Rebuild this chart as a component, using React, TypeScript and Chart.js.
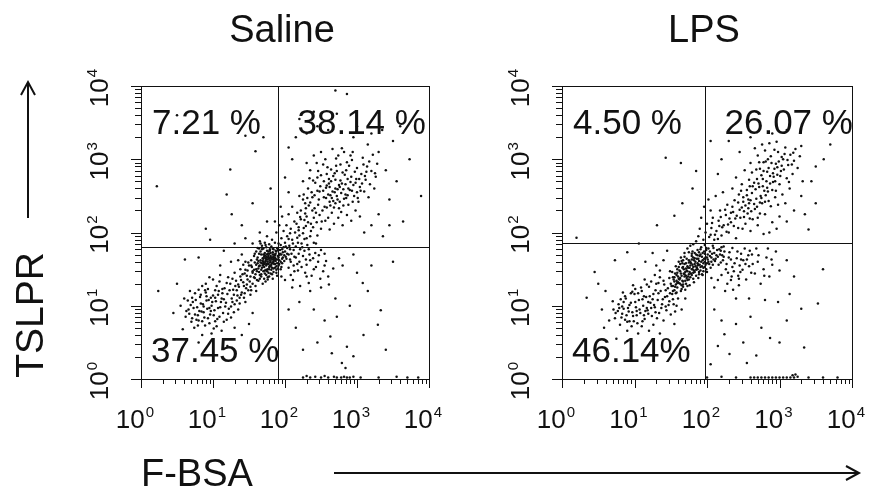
import React, { useEffect, useRef } from "react";
import { Chart, registerables } from "chart.js";

Chart.register(...registerables);

// ---------- data (in log10 units) ----------
const PANEL_TITLES = ["Saline", "LPS"];
const Y_AXIS_TITLE = "TSLPR";
const X_AXIS_TITLE = "F-BSA";
const DECADE_EXPONENTS = [0, 1, 2, 3, 4];
const AXIS_MIN = 1;
const AXIS_MAX = 10000;

const SALINE_QUADRANTS = ["7.21 %", "38.14 %", "37.45 %"]; // UL, UR, LL
const LPS_QUADRANTS = ["4.50 %", "26.07 %", "46.14%"];
const SALINE_GATE = [80, 63]; // x, y
const LPS_GATE = [93, 71];

const SALINE_EVENTS: number[][] = [
  // dense core
  [1.55,1.45],[1.60,1.50],[1.62,1.58],[1.65,1.42],[1.66,1.62],[1.68,1.52],[1.70,1.70],[1.71,1.58],[1.72,1.48],[1.73,1.65],
  [1.74,1.55],[1.75,1.75],[1.76,1.60],[1.77,1.68],[1.78,1.50],[1.79,1.62],[1.80,1.72],[1.81,1.56],[1.82,1.66],[1.83,1.78],
  [1.84,1.60],[1.85,1.70],[1.86,1.52],[1.87,1.64],[1.88,1.74],[1.89,1.58],[1.90,1.68],[1.92,1.62],[1.93,1.76],[1.95,1.70],
  [1.97,1.66],[1.98,1.80],[2.00,1.74],[1.58,1.38],[1.63,1.34],[1.67,1.40],[1.69,1.30],[1.74,1.42],[1.76,1.36],[1.80,1.44],
  [1.84,1.46],[1.50,1.55],[1.53,1.62],[1.57,1.68],[1.60,1.74],[1.64,1.78],[1.68,1.82],[1.72,1.86],[1.78,1.84],[1.82,1.90],
  [1.86,1.86],[1.75,1.95],[1.70,1.64],[1.79,1.55],[1.81,1.64],[1.77,1.74],[1.73,1.60],[1.67,1.70],[1.64,1.54],[1.85,1.62],
  [1.91,1.55],[1.94,1.50],[1.96,1.58],[2.02,1.64],[2.05,1.70],[2.08,1.60],[1.88,1.45],[1.62,1.66],[1.70,1.56],[1.76,1.66],
  [1.83,1.70],[1.61,1.47],[1.63,1.61],[1.65,1.55],[1.67,1.49],[1.69,1.65],[1.71,1.53],[1.72,1.69],[1.74,1.63],[1.75,1.47],
  [1.77,1.57],[1.78,1.71],[1.80,1.61],[1.81,1.49],[1.83,1.59],[1.84,1.67],[1.86,1.57],[1.87,1.71],[1.89,1.63],[1.90,1.51],
  [1.92,1.69],[1.66,1.74],[1.70,1.78],[1.74,1.80],[1.79,1.77],[1.84,1.77],[1.72,1.44],[1.78,1.40],[1.82,1.52],[1.88,1.54],
  [1.94,1.60],[1.60,1.56],[1.64,1.46],[1.68,1.58],[1.76,1.50],[1.80,1.68],[1.86,1.66],[1.90,1.76],[1.96,1.64],[1.70,1.60],
  [1.75,1.70],[1.73,1.61],[1.79,1.59],[1.76,1.63],[1.82,1.58],[1.71,1.67],[1.85,1.65],[1.78,1.53],[1.69,1.55],[1.83,1.73],
  [1.74,1.49],[1.91,1.66],[1.66,1.59],[1.87,1.61],[1.80,1.66],[1.72,1.72],[1.77,1.45],[1.93,1.71],[1.63,1.51],[1.89,1.79],
  [1.68,1.77],[1.81,1.81],[1.75,1.57],[1.84,1.51],[1.70,1.47],[1.96,1.77],[1.61,1.63],[1.86,1.69],[1.79,1.75],[1.73,1.83],
  [1.67,1.43],[1.92,1.57],[1.99,1.69],[1.58,1.59],[1.76,1.39],[1.88,1.49],[2.01,1.81],[1.64,1.71],[1.82,1.43],[1.71,1.37],
  [1.94,1.83],[1.57,1.49],[1.85,1.57],[1.78,1.65],[1.74,1.67],[1.80,1.54],[1.69,1.61],[1.87,1.75],[1.83,1.63],[1.76,1.71],
  [1.72,1.57],[1.58,1.71],[1.62,1.79],[1.66,1.85],[1.91,1.85],[1.97,1.73],[2.03,1.71],[2.07,1.77],[1.99,1.61],[1.95,1.53],
  [1.89,1.41],[1.83,1.37],[1.73,1.33],[1.65,1.37],[1.59,1.43],[1.54,1.53],
  // between core and lower-left cloud
  [1.47,1.41],[1.51,1.33],[1.43,1.27],[1.55,1.47],[1.39,1.35],[1.49,1.21],[1.57,1.39],[1.35,1.29],[1.45,1.49],[1.53,1.55],
  [1.41,1.43],[1.33,1.21],[1.59,1.27],[1.37,1.11],[1.27,1.37],[1.29,1.15],[1.49,1.59],[1.61,1.35],[1.44,1.17],[1.52,1.26],
  // lower-left cloud
  [0.62,0.85],[0.66,0.95],[0.70,0.78],[0.72,1.05],[0.75,0.88],[0.78,0.98],[0.80,0.80],[0.82,1.12],[0.84,0.92],[0.86,1.02],
  [0.88,0.84],[0.90,1.18],[0.92,0.96],[0.94,1.08],[0.96,0.88],[0.98,1.00],[1.00,1.14],[1.02,0.94],[1.04,1.06],[1.06,0.82],
  [1.08,1.20],[1.10,0.98],[1.12,1.10],[1.14,0.90],[1.16,1.24],[1.18,1.04],[1.20,1.16],[1.22,0.96],[1.24,1.30],[1.26,1.10],
  [1.28,1.22],[1.30,1.02],[1.32,1.34],[1.34,1.14],[1.36,1.26],[1.38,1.40],[1.40,1.18],[1.42,1.32],[1.44,1.44],[1.46,1.24],
  [1.48,1.36],[0.95,0.76],[1.05,0.72],[1.15,0.78],[1.25,0.84],[0.80,1.22],[0.90,1.30],[1.00,1.36],[1.10,1.42],[0.55,1.00],
  [0.60,1.10],[0.68,1.20],[1.35,0.95],[1.45,1.05],[1.52,1.15],[0.98,0.62],[1.12,0.66],[0.74,0.70],[0.50,1.30],[0.45,0.90],
  [0.58,0.68],[0.85,0.60],[1.30,0.70],[1.55,0.90],[1.60,1.20],[0.24,1.20],[0.61,1.63],[0.80,1.66],[0.96,1.90],[1.10,1.55],
  [1.25,1.60],[1.40,1.70],[1.45,1.60],[1.15,1.75],[1.38,1.50],[1.42,1.56],[1.48,1.48],[1.52,1.40],[1.35,1.62],[1.55,1.30],
  [1.30,1.45],[0.80,0.50],[1.20,0.45],[1.40,0.60],[1.50,0.75],
  [0.67,0.89],[0.73,0.97],[0.79,0.87],[0.83,1.03],[0.87,0.91],[0.91,1.07],[0.97,0.93],[1.03,1.11],[1.07,0.97],[1.13,1.17],
  [1.17,0.99],[1.23,1.21],[1.27,1.05],[0.77,0.81],[0.93,0.83],[1.01,0.87],[1.09,0.85],[0.71,1.11],[0.89,1.21],[1.05,1.27],
  [1.19,1.31],[1.31,1.27],[0.99,1.05],[1.11,1.05],[0.85,0.79],[0.95,0.97],[1.15,1.09],[0.81,0.93],[0.63,0.93],[0.69,1.01],
  [1.21,0.89],[1.33,1.07],[1.39,1.15],[1.03,0.79],[0.91,1.13],[0.76,1.08],[1.07,1.15],[1.25,0.99],[0.87,0.99],[0.97,1.11],
  [0.71,0.83],[0.79,0.73],[0.89,0.73],[1.01,0.69],[1.19,0.81],[1.29,0.91],[1.37,1.03],[1.43,1.11],[1.47,1.29],[1.53,1.21],
  [0.65,1.07],[0.75,1.17],[0.85,1.27],[0.95,1.39],[1.09,1.33],[1.21,1.39],[1.13,1.23],[1.03,1.21],[0.93,1.23],[0.83,1.15],
  // band between core and upper-right cloud
  [2.00,1.86],[2.03,1.95],[2.06,1.82],[2.08,2.05],[2.10,1.90],[2.12,1.76],[2.14,2.00],[2.16,2.12],[2.18,1.86],[2.20,1.96],
  [2.22,2.18],[2.24,1.80],[2.26,2.06],[2.28,2.26],[2.30,1.92],[2.32,2.14],[2.34,1.70],[2.36,2.02],[2.38,2.30],[2.40,1.86],
  [2.02,2.10],[2.05,2.25],[2.10,2.35],[2.15,1.66],[2.20,1.60],[2.25,1.68],[2.30,1.56],[2.35,1.62],[2.42,1.72],[2.45,1.96],
  [1.98,2.02],[1.95,1.92],[2.12,1.55],[2.18,1.48],[2.28,1.45],[2.40,1.50],[2.46,1.60],[2.50,1.76],[2.05,1.52],[1.95,1.40],
  [2.00,1.35],[2.08,1.42],[1.92,2.10],[1.96,2.22],[1.94,2.35],[1.88,2.00],[1.86,2.15],
  [2.03,1.79],[2.09,1.71],[2.11,1.85],[2.17,1.93],[2.07,1.99],[2.21,1.77],[2.13,1.67],[2.19,2.03],[2.27,1.91],[2.23,1.85],
  [2.01,1.67],[2.15,1.81],[2.31,1.83],[2.25,1.99],[2.05,1.91],[2.29,2.09],[2.35,1.95],[2.39,2.07],[2.33,1.77],[2.43,1.85],
  [2.07,1.63],[2.13,1.47],[2.19,1.71],[2.23,1.53],[2.29,1.63],[2.37,1.41],[2.43,1.53],[2.47,1.69],[2.53,1.47],[2.57,1.61],
  [2.61,1.29],[2.67,1.51],[2.11,1.35],[2.21,1.27],[2.33,1.31],[2.49,1.37],[2.17,1.57],[2.27,1.75],[2.39,1.65],[2.55,1.71],
  // upper-right cloud
  [2.20,2.50],[2.25,2.70],[2.28,2.40],[2.32,2.60],[2.35,2.85],[2.38,2.48],[2.40,2.20],[2.42,2.68],[2.44,2.95],[2.46,2.38],
  [2.48,2.56],[2.50,2.78],[2.52,2.30],[2.54,2.48],[2.56,3.00],[2.58,2.64],[2.60,2.20],[2.62,2.42],[2.64,2.86],[2.66,2.56],
  [2.68,2.34],[2.70,2.72],[2.72,2.50],[2.74,3.05],[2.76,2.62],[2.78,2.28],[2.80,2.82],[2.82,2.46],[2.84,2.66],[2.86,2.96],
  [2.88,2.38],[2.90,2.58],[2.92,2.76],[2.94,3.10],[2.96,2.50],[2.98,2.68],[3.00,2.88],[3.02,2.42],[3.04,2.62],[3.06,2.80],
  [3.08,3.02],[3.10,2.56],[3.12,2.72],[3.14,2.90],[3.16,2.48],[3.18,2.66],[3.20,2.84],[3.22,3.06],[3.24,2.60],[3.26,2.76],
  [3.28,2.94],[3.30,3.10],[2.36,2.12],[2.44,2.14],[2.50,2.05],[2.56,2.16],[2.62,2.04],[2.68,2.12],[2.74,2.20],[2.80,2.10],
  [2.86,2.24],[2.92,2.16],[2.98,2.30],[3.04,2.22],[2.48,2.24],[2.58,2.34],[2.70,2.40],[2.78,2.54],[2.88,2.60],[2.54,2.70],
  [2.62,2.62],[2.72,2.84],[2.82,3.10],[2.66,3.14],[2.50,3.10],[2.40,3.05],[2.30,2.95],[2.60,2.52],[2.64,2.70],[2.76,2.42],
  [2.84,2.52],[2.94,2.42],[3.00,2.55],[2.70,2.60],[2.58,2.80],[2.46,2.84],[2.34,2.74],[2.26,2.52],[2.22,2.30],[2.30,2.22],
  [2.57,2.47],[2.63,2.37],[2.69,2.55],[2.73,2.45],[2.79,2.67],[2.85,2.47],[2.91,2.69],[2.61,2.67],[2.67,2.77],[2.75,2.33],
  [2.53,2.57],[2.47,2.45],[2.41,2.33],[2.37,2.55],[2.83,2.79],[2.89,2.91],[2.97,2.83],[3.03,2.73],[3.09,2.93],[2.71,2.91],
  [2.59,2.89],[2.49,2.63],[2.43,2.27],[2.33,2.37],[2.27,2.17],[2.19,2.07],[2.31,2.47],[2.39,2.71],[2.55,2.35],[2.65,2.27],
  [2.77,2.71],[2.93,2.57],[3.01,2.47],[3.13,2.83],[2.81,2.37],[2.45,2.57],[2.51,2.15],[2.29,2.33],[2.21,2.21],[2.35,2.41],
  [2.13,2.15],[2.17,2.27],[2.25,2.45],[2.87,2.73],[2.95,2.65],[3.07,2.67],[2.63,2.51],[2.73,2.59],[2.67,2.43],[2.57,2.61],
  [2.61,2.73],[2.69,2.81],[2.77,2.93],[2.81,2.59],[2.87,2.51],[2.93,2.99],[2.99,2.73],[3.05,2.57],[3.11,2.77],[2.53,2.93],
  [2.45,2.75],[2.41,2.51],[2.65,2.47],[2.75,2.65],[2.85,2.85],[2.71,3.01],[2.79,3.15],[2.91,3.05],[3.17,2.97],[3.25,2.81],
  // upper sparse
  [2.05,3.16],[2.15,3.30],[2.30,3.35],[2.45,3.45],[2.60,3.40],[2.72,3.62],[2.70,3.94],[2.86,3.89],[3.00,3.45],[3.20,3.35],
  [3.50,3.25],[3.73,3.00],[3.89,2.50],[3.64,2.15],[3.36,1.95],[3.45,2.45],[3.55,2.70],[3.40,2.85],[3.60,3.45],[2.40,3.65],
  [2.20,3.55],[2.95,3.30],[3.15,3.20],[3.35,3.40],[3.30,2.25],[3.45,2.10],[3.20,2.10],[3.10,2.00],[2.10,3.00],[2.00,2.75],
  [2.05,2.55],
  // lower-right sparse
  [2.63,0.58],[2.86,0.44],[2.95,0.31],[3.09,0.60],[3.29,0.74],[3.33,0.94],[3.08,1.31],[2.79,0.22],[2.84,0.15],[2.55,0.80],
  [2.40,0.95],[2.70,1.10],[2.90,1.00],[3.00,1.45],[3.20,1.55],[2.60,1.40],[2.80,1.55],[2.50,1.25],[2.35,1.20],[2.20,1.05],
  [2.10,1.25],[2.15,0.70],[2.45,0.50],[2.65,0.35],[2.30,1.40],[2.55,1.55],[2.75,1.65],[2.95,1.70],[3.15,1.20],[3.50,1.60],
  [2.25,0.40],[2.05,0.95],[3.40,0.40],[2.72,0.85],
  // on the bottom edge
  [2.25,0.02],[2.35,0.02],[2.42,0.03],[2.50,0.02],[2.60,0.02],[2.68,0.03],[2.72,0.02],[2.78,0.02],[2.82,0.03],[2.86,0.02],
  [2.90,0.02],[2.95,0.03],[3.05,0.02],[3.30,0.02],[3.55,0.03],[3.70,0.02],[3.85,0.02],[2.30,0.04],[2.55,0.04],
  // upper-left sparse
  [0.22,2.63],[1.19,2.52],[1.24,2.86],[1.59,3.11],[1.45,3.32],[1.26,2.25],[0.50,3.60],[1.70,3.30],[1.80,2.60],[1.55,2.40],
  [1.40,2.10],[1.65,2.00],[1.75,2.15],[0.90,2.05],[1.65,1.88],[1.55,1.85],[1.45,1.92],[1.30,1.85],
];

const LPS_EVENTS: number[][] = [
  // dense core
  [1.50,1.30],[1.54,1.36],[1.56,1.26],[1.58,1.42],[1.60,1.32],[1.62,1.48],[1.63,1.38],[1.65,1.28],[1.66,1.52],[1.68,1.44],
  [1.70,1.34],[1.71,1.58],[1.72,1.48],[1.74,1.40],[1.75,1.62],[1.76,1.52],[1.78,1.44],[1.79,1.68],[1.80,1.56],[1.82,1.48],
  [1.83,1.72],[1.84,1.60],[1.86,1.52],[1.87,1.76],[1.88,1.64],[1.90,1.56],[1.91,1.70],[1.92,1.80],[1.94,1.62],[1.95,1.52],
  [1.96,1.74],[1.98,1.66],[2.00,1.58],[2.02,1.78],[2.04,1.68],[2.06,1.60],[2.08,1.82],[2.10,1.72],[2.12,1.64],[2.14,1.76],
  [2.16,1.56],[2.18,1.70],[2.20,1.80],[2.22,1.62],[2.24,1.74],[1.52,1.46],[1.57,1.54],[1.61,1.60],[1.64,1.66],[1.69,1.72],
  [1.73,1.78],[1.77,1.82],[1.81,1.84],[1.85,1.88],[1.58,1.18],[1.64,1.20],[1.70,1.22],[1.76,1.28],[1.82,1.32],[1.88,1.38],
  [1.94,1.42],[2.00,1.46],[1.67,1.62],[1.73,1.54],[1.77,1.60],[1.81,1.66],[1.85,1.70],[1.89,1.46],[1.93,1.54],[1.97,1.60],
  [2.01,1.70],[1.53,1.20],[1.48,1.38],[1.59,1.50],[1.69,1.40],[1.79,1.50],[1.87,1.58],[1.99,1.76],[2.05,1.52],
  [1.60,1.40],[1.62,1.36],[1.64,1.44],[1.66,1.34],[1.68,1.50],[1.70,1.46],[1.72,1.38],[1.74,1.52],[1.76,1.46],[1.78,1.58],
  [1.80,1.50],[1.82,1.62],[1.84,1.54],[1.86,1.64],[1.88,1.56],[1.90,1.68],[1.92,1.60],[1.94,1.72],[1.96,1.64],[1.98,1.56],
  [2.00,1.66],[2.02,1.60],[2.04,1.74],[2.06,1.66],[2.08,1.56],[1.63,1.30],[1.67,1.26],[1.71,1.30],[1.75,1.36],[1.79,1.42],
  [1.83,1.46],[1.87,1.50],[1.91,1.48],[1.95,1.58],[1.99,1.50],[1.58,1.34],[1.56,1.44],[1.66,1.58],[1.72,1.64],[1.80,1.74],
  [1.77,1.55],[1.83,1.57],[1.73,1.47],[1.89,1.61],[1.69,1.43],[1.93,1.67],[1.79,1.63],[1.85,1.49],[1.75,1.59],[1.65,1.41],
  [1.97,1.71],[1.81,1.45],[1.71,1.51],[1.91,1.53],[1.87,1.69],[1.61,1.37],[1.67,1.33],[2.01,1.63],[1.95,1.47],[1.77,1.39],
  [1.57,1.29],[2.07,1.71],[1.83,1.65],[1.73,1.35],[1.63,1.47],[2.03,1.57],[1.99,1.79],[1.89,1.73],[1.79,1.71],[1.69,1.57],
  [1.59,1.45],[1.55,1.33],[2.11,1.61],[1.93,1.43],[1.85,1.41],[1.75,1.43],[1.81,1.53],[1.87,1.55],[1.71,1.41],[2.13,1.69],
  [2.17,1.77],[2.09,1.79],[1.97,1.83],[1.67,1.53],[1.63,1.57],[1.59,1.25],[1.65,1.23],[1.73,1.27],[1.61,1.31],[1.91,1.77],
  [1.53,1.27],[1.55,1.39],[1.61,1.53],[1.65,1.61],[1.69,1.67],[1.75,1.73],[2.09,1.63],[2.15,1.67],[2.19,1.75],[2.21,1.69],
  [1.97,1.53],[1.89,1.43],[1.81,1.37],[1.67,1.29],[2.23,1.81],
  // lower-left cloud
  [0.74,0.90],[0.78,1.02],[0.82,0.84],[0.85,0.96],[0.88,1.10],[0.90,0.78],[0.92,0.92],[0.95,1.04],[0.98,0.86],[1.00,1.16],
  [1.02,0.98],[1.04,0.76],[1.06,1.08],[1.08,0.90],[1.10,1.20],[1.12,1.00],[1.14,0.82],[1.16,1.12],[1.18,0.94],[1.20,1.26],
  [1.22,1.04],[1.24,0.86],[1.26,1.16],[1.28,0.98],[1.30,1.30],[1.32,1.08],[1.34,0.90],[1.36,1.20],[1.38,1.02],[1.40,1.34],
  [1.42,1.12],[1.44,0.94],[1.46,1.24],[1.48,1.06],[1.50,0.88],[1.52,1.16],[1.54,1.02],[0.80,0.74],[0.96,0.72],[1.10,0.72],
  [1.26,0.74],[1.40,0.80],[0.70,1.06],[0.84,1.18],[0.98,1.28],[1.14,1.36],[1.28,1.42],[0.65,0.80],[1.58,1.00],[1.60,1.10],
  [1.56,0.92],[1.05,0.62],[1.20,0.66],[0.90,0.66],
  [0.77,0.93],[0.83,0.99],[0.89,0.87],[0.93,1.01],[0.97,0.91],[1.01,1.05],[1.07,0.95],[1.11,1.09],[1.17,0.97],[1.21,1.13],
  [1.27,1.01],[1.33,1.17],[1.37,0.97],[1.43,1.21],[1.47,1.01],[1.51,1.27],[0.87,0.81],[0.99,0.79],[1.13,0.87],[1.29,0.91],
  [0.81,1.09],[0.95,1.17],[1.09,1.25],[1.23,1.33],[1.35,1.39],[1.03,0.87],[1.19,1.05],[0.91,0.97],[1.45,1.13],[1.55,1.21],
  [1.41,1.29],[1.53,1.39],[1.49,1.47],[1.57,1.17],[0.73,0.83],[1.15,0.93],[1.25,1.09],[1.05,1.17],[0.85,1.05],[1.31,0.83],
  [0.79,0.97],[0.87,1.13],[0.93,0.79],[1.03,0.93],[1.13,1.13],[1.19,0.89],[1.29,1.21],[1.39,1.09],[1.49,1.17],[1.59,1.31],
  [0.71,0.95],[0.83,0.89],[1.01,1.23],[1.17,1.29],[1.33,1.31],[1.43,0.99],[1.53,1.09],[1.11,0.79],[0.97,1.19],[1.23,0.97],
  [0.34,1.11],[0.45,1.46],[0.50,1.30],[0.73,1.62],[0.90,1.73],[0.55,0.95],[0.60,1.20],[1.00,1.50],[1.15,1.60],[1.30,1.55],
  [1.25,1.72],[1.40,1.62],[1.45,1.75],[1.35,1.48],[0.20,1.93],[0.58,0.70],[0.75,0.55],[1.35,0.62],[1.55,0.75],[1.65,0.95],
  [1.70,1.10],
  // band above the core
  [1.95,1.90],[1.98,2.00],[2.00,2.12],[2.03,1.94],[2.06,2.06],[2.08,2.20],[2.10,1.90],[2.13,2.02],[2.16,2.16],[2.18,2.30],
  [2.20,1.96],[2.23,2.10],[2.26,2.24],[2.28,2.38],[2.30,2.00],[2.33,2.14],[2.36,2.28],[2.38,2.44],[2.40,1.92],[2.43,2.06],
  [2.46,2.20],[2.48,2.34],[2.50,2.48],[2.53,2.12],[2.56,2.26],[2.58,2.40],[2.60,2.02],[2.63,2.18],[2.66,2.32],[2.68,2.46],
  [2.70,2.10],[2.73,2.26],[2.76,2.40],[2.78,1.98],[1.92,2.20],[1.90,2.05],[1.96,2.35],[2.02,2.45],[2.12,2.50],[1.88,1.95],
  [2.05,2.30],[2.22,2.55],
  [2.15,1.91],[2.21,2.07],[2.11,1.97],[2.27,2.01],[2.31,2.19],[2.37,2.09],[2.41,2.23],[2.45,2.31],[2.51,2.21],[2.57,2.33],
  [2.61,2.29],[2.05,1.97],[2.17,2.09],[2.25,2.31],[2.35,2.35],
  [2.39,2.19],[2.51,2.29],[2.59,2.19],[2.33,2.27],[2.19,2.21],[2.07,2.13],[2.29,2.11],[2.49,2.05],
  // right of the core, below the gate
  [2.26,1.50],[2.30,1.66],[2.34,1.40],[2.38,1.58],[2.42,1.74],[2.46,1.46],[2.50,1.62],[2.54,1.36],[2.58,1.54],[2.62,1.70],
  [2.66,1.44],[2.70,1.60],[2.74,1.30],[2.78,1.50],[2.82,1.66],[2.86,1.40],[2.90,1.56],[2.95,1.74],[3.00,1.48],[2.28,1.30],
  [2.36,1.22],[2.44,1.28],[2.20,1.42],[2.52,1.78],[2.68,1.78],[2.84,1.78],[3.10,1.62],[3.20,1.40],[2.15,1.35],[2.25,1.20],
  [2.40,1.10],[2.06,1.38],[2.10,1.25],
  [2.27,1.57],[2.33,1.63],[2.37,1.47],[2.41,1.65],[2.45,1.55],[2.31,1.73],[2.23,1.67],[2.19,1.59],[2.29,1.45],[2.35,1.79],
  [2.47,1.71],[2.55,1.63],[2.49,1.49],[2.59,1.75],[2.63,1.57],
  [2.35,1.53],[2.43,1.41],[2.53,1.57],[2.61,1.45],[2.71,1.69],[2.79,1.41],[2.89,1.63],[2.33,1.35],[2.47,1.63],[2.57,1.69],
  // upper-right cloud
  [2.35,2.60],[2.40,2.75],[2.44,2.52],[2.48,2.66],[2.52,2.85],[2.55,2.58],[2.58,2.72],[2.60,2.95],[2.62,2.54],[2.65,2.68],
  [2.68,2.86],[2.70,3.05],[2.72,2.62],[2.75,2.78],[2.78,2.96],[2.80,3.12],[2.82,2.70],[2.85,2.88],[2.88,3.04],[2.90,2.58],
  [2.92,2.76],[2.95,2.94],[2.98,3.10],[3.00,2.66],[3.02,2.84],[3.05,3.00],[3.08,3.16],[3.10,2.74],[3.12,2.92],[3.15,3.06],
  [3.18,2.80],[3.20,2.98],[3.22,3.14],[3.25,2.88],[3.28,3.04],[2.76,3.20],[2.86,3.22],[2.96,3.24],[2.66,3.15],[2.74,2.50],
  [2.84,2.56],[2.94,2.48],[3.04,2.52],[3.14,2.60],[2.80,2.42],[2.60,2.44],[2.50,2.42],[2.88,2.36],[2.98,2.38],[3.08,2.40],
  [2.70,2.20],[2.80,2.25],[2.90,2.14],[3.00,2.22],[2.86,2.00],[2.96,2.05],[3.10,2.15],[3.20,2.30],[3.30,2.50],[3.32,2.70],
  [2.62,2.82],[2.78,2.84],[2.94,2.70],[3.06,2.86],[2.72,2.96],[2.84,3.00],
  [2.71,2.67],[2.77,2.73],[2.83,2.83],[2.89,2.95],[2.93,2.87],[2.99,2.97],[3.03,2.91],[3.07,3.07],[2.81,2.97],[2.87,2.67],
  [2.97,2.79],[2.73,2.87],[2.67,2.59],[2.79,2.57],[2.91,2.81],[3.01,2.77],[3.11,2.99],[3.17,2.93],[2.69,2.35],[2.75,2.47],
  [2.85,2.43],[2.65,2.39],[2.55,2.51],[2.59,2.63],[2.53,2.37],[2.95,2.57],[2.83,2.61],[3.13,2.69],[3.19,3.09],[2.93,3.13],
  [2.43,2.41],[2.47,2.57],[2.57,2.45],[2.63,2.63],[2.69,2.73],[2.77,2.63],[2.87,2.77],[2.97,2.89],[3.03,3.03],[2.91,2.69],
  [2.81,2.51],[2.73,2.41],
  // upper sparse
  [2.05,3.25],[2.30,3.25],[2.60,3.30],[3.30,3.18],[3.61,3.00],[3.70,3.20],[3.44,2.70],[3.40,2.04],[3.35,2.25],[3.50,2.40],
  [1.43,3.02],[1.64,2.95],[1.55,2.23],[1.31,2.10],[1.06,1.85],[1.66,2.40],[1.85,2.84],[1.80,2.60],[2.20,3.00],[2.45,3.10],
  [3.50,2.90],[3.10,3.40],[2.90,3.35],[2.15,2.80],
  // lower-right sparse
  [2.87,0.56],[2.24,0.61],[2.31,0.34],[2.68,0.32],[2.55,0.22],[3.00,0.50],[3.34,0.43],[3.30,0.96],[3.53,1.03],[3.14,1.16],
  [2.98,1.05],[2.80,1.08],[2.58,1.10],[2.44,1.37],[2.10,0.95],[2.20,0.80],[2.40,0.75],[2.60,0.85],[2.75,0.70],[3.10,0.80],
  [2.50,0.50],[2.15,0.45],[2.05,0.20],[3.60,1.50],
  // on the bottom edge
  [2.60,0.02],[2.65,0.02],[2.70,0.02],[2.75,0.02],[2.80,0.02],[2.85,0.02],[2.90,0.02],[2.95,0.02],[3.00,0.02],[3.05,0.02],
  [3.10,0.02],[3.15,0.02],[3.20,0.02],[3.25,0.03],[3.18,0.05],[3.22,0.06],[2.40,0.02],[2.20,0.03],[3.40,0.02],[3.60,0.02],
  [3.80,0.02],[2.00,0.02],
];

// ---------- drawing helpers ----------
const FONT = '"Liberation Sans", Arial, Helvetica, sans-serif';
const INK = "#111";

function drawPower(ctx: CanvasRenderingContext2D, exp: number, cx: number, baseline: number) {
  ctx.font = `26px ${FONT}`;
  const w1 = ctx.measureText("10").width;
  ctx.font = `15px ${FONT}`;
  const w2 = ctx.measureText(String(exp)).width;
  const start = cx - (w1 + w2 + 1) / 2;
  ctx.textAlign = "left";
  ctx.textBaseline = "alphabetic";
  ctx.font = `26px ${FONT}`;
  ctx.fillText("10", start, baseline);
  ctx.font = `15px ${FONT}`;
  ctx.fillText(String(exp), start + w1 + 1, baseline - 11);
}

function makeDecor(cfg: { title: string; quads: string[]; gate: number[]; outer: boolean }) {
  return {
    id: "flowDecor",
    afterDatasetsDraw(chart: any) {
      const ctx: CanvasRenderingContext2D = chart.ctx;
      const xs = chart.scales.x;
      const ys = chart.scales.y;
      const { left, right, top, bottom } = chart.chartArea;
      ctx.save();
      ctx.strokeStyle = INK;
      ctx.fillStyle = INK;
      ctx.lineWidth = 1;

      // frame
      ctx.strokeRect(Math.round(left) + 0.5, Math.round(top) + 0.5, Math.round(right - left), Math.round(bottom - top));

      // quadrant gates
      const gx = Math.round(xs.getPixelForValue(cfg.gate[0])) + 0.5;
      const gy = Math.round(ys.getPixelForValue(cfg.gate[1])) + 0.5;
      ctx.beginPath();
      ctx.moveTo(gx, top);
      ctx.lineTo(gx, bottom);
      ctx.moveTo(left, gy);
      ctx.lineTo(right, gy);
      ctx.stroke();

      // log ticks (outside, left and bottom)
      ctx.beginPath();
      for (const d of DECADE_EXPONENTS) {
        for (let k = 1; k <= 9; k++) {
          const v = k * Math.pow(10, d);
          if (v > AXIS_MAX) break;
          const major = k === 1;
          const px = Math.round(xs.getPixelForValue(v)) + 0.5;
          const py = Math.round(ys.getPixelForValue(v)) + 0.5;
          ctx.moveTo(px, bottom);
          ctx.lineTo(px, bottom + (major ? 9 : 5));
          ctx.moveTo(left, py);
          ctx.lineTo(left - (major ? 10 : 6), py);
        }
      }
      ctx.stroke();

      // tick labels
      for (const d of DECADE_EXPONENTS) {
        const v = Math.pow(10, d);
        const px = xs.getPixelForValue(v);
        drawPower(ctx, d, px - 6, bottom + 49);
        const py = ys.getPixelForValue(v);
        ctx.save();
        ctx.translate(left - 33, py + 2);
        ctx.rotate(-Math.PI / 2);
        drawPower(ctx, d, 0, 0);
        ctx.restore();
      }

      // quadrant percentages
      ctx.font = `35px ${FONT}`;
      ctx.textAlign = "left";
      ctx.textBaseline = "alphabetic";
      ctx.fillText(cfg.quads[0], left + 11, top + 48);
      ctx.fillText(cfg.quads[1], gx + 19, top + 48);
      ctx.fillText(cfg.quads[2], left + 10, bottom - 17);

      // panel title
      ctx.font = `38px ${FONT}`;
      ctx.textAlign = "center";
      ctx.fillText(cfg.title, (left + right) / 2 - 3, 42);

      if (cfg.outer) {
        // y axis title + arrow
        ctx.save();
        ctx.translate(43, 315);
        ctx.rotate(-Math.PI / 2);
        ctx.font = `39px ${FONT}`;
        ctx.textAlign = "center";
        ctx.fillText(Y_AXIS_TITLE, 0, 0);
        ctx.restore();
        ctx.lineWidth = 2;
        ctx.beginPath();
        ctx.moveTo(28, 218);
        ctx.lineTo(28, 83);
        ctx.moveTo(21, 95);
        ctx.lineTo(28, 82);
        ctx.lineTo(35, 95);
        ctx.stroke();
        // x axis title + arrow
        ctx.font = `38px ${FONT}`;
        ctx.textAlign = "left";
        ctx.fillText(X_AXIS_TITLE, 141, 486);
        ctx.beginPath();
        ctx.moveTo(334, 473);
        ctx.lineTo(858, 473);
        ctx.moveTo(846, 466);
        ctx.lineTo(859, 473);
        ctx.lineTo(846, 480);
        ctx.stroke();
      }
      ctx.restore();
    },
  };
}

function buildChart(
  canvas: HTMLCanvasElement,
  events: number[][],
  padding: { left: number; right: number; top: number; bottom: number },
  decor: any
) {
  const data = events.map((p) => ({ x: Math.pow(10, p[0]), y: Math.pow(10, p[1]) }));
  return new Chart(canvas, {
    type: "scatter",
    data: {
      datasets: [
        {
          data,
          pointRadius: 1.25,
          pointHoverRadius: 1.25,
          pointBorderWidth: 0,
          pointBackgroundColor: INK,
          backgroundColor: INK,
          borderColor: INK,
        },
      ],
    },
    options: {
      animation: false,
      responsive: false,
      devicePixelRatio: 1,
      events: [],
      layout: { padding },
      plugins: { legend: { display: false }, tooltip: { enabled: false }, title: { display: false } },
      scales: {
        x: { type: "logarithmic", min: AXIS_MIN, max: AXIS_MAX, display: false },
        y: { type: "logarithmic", min: AXIS_MIN, max: AXIS_MAX, display: false },
      },
    },
    plugins: [decor],
  } as any);
}

export default function App() {
  const leftRef = useRef<HTMLCanvasElement>(null);
  const rightRef = useRef<HTMLCanvasElement>(null);

  useEffect(() => {
    const a = buildChart(
      leftRef.current!,
      SALINE_EVENTS,
      { left: 141, right: 873 - 429, top: 86, bottom: 496 - 379 },
      makeDecor({ title: PANEL_TITLES[0], quads: SALINE_QUADRANTS, gate: SALINE_GATE, outer: true })
    );
    const b = buildChart(
      rightRef.current!,
      LPS_EVENTS,
      { left: 562, right: 873 - 852, top: 86, bottom: 496 - 379 },
      makeDecor({ title: PANEL_TITLES[1], quads: LPS_QUADRANTS, gate: LPS_GATE, outer: false })
    );
    return () => {
      a.destroy();
      b.destroy();
    };
  }, []);

  const canvasStyle: React.CSSProperties = { position: "absolute", left: 0, top: 0, width: 873, height: 496 };
  return (
    <div style={{ position: "fixed", left: 0, top: 0, width: 873, height: 496, background: "#fff", overflow: "hidden" }}>
      <canvas ref={leftRef} width={873} height={496} style={canvasStyle} />
      <canvas ref={rightRef} width={873} height={496} style={canvasStyle} />
    </div>
  );
}
